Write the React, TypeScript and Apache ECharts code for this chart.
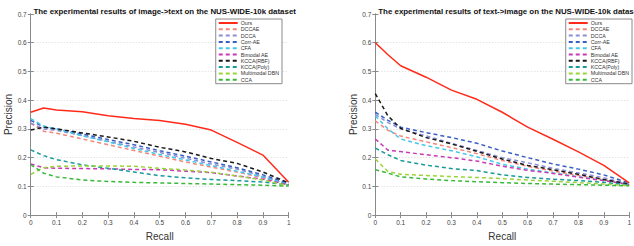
import React, { useEffect, useRef } from "react";
import * as echarts from "echarts";

const recall = [0, 0.05, 0.1, 0.2, 0.3, 0.4, 0.5, 0.6, 0.7, 0.8, 0.9, 1.0];
const methods = ["Ours", "DCCAE", "DCCA", "Corr-AE", "CFA", "Bimodal AE", "KCCA(RBF)", "KCCA(Poly)", "Multimodal DBN", "CCA"];
const colors = ["#ff2a1a", "#f4877a", "#8b8fd6", "#3a5fc4", "#45c8e8", "#c83ab5", "#1a1a1a", "#1a9a9a", "#9ad43a", "#3ab83a"];

const titles = [
  "The experimental results of image->text on the NUS-WIDE-10k dataset",
  "The experimental results of text->image on the NUS-WIDE-10k dataset",
];

// image -> text
const imgOurs = [0.358, 0.373, 0.366, 0.36, 0.346, 0.336, 0.329, 0.316, 0.296, 0.253, 0.209, 0.114];
const imgDCCAE = [0.32, 0.292, 0.285, 0.265, 0.245, 0.225, 0.205, 0.185, 0.167, 0.15, 0.13, 0.105];
const imgDCCA = [0.32, 0.3, 0.295, 0.277, 0.257, 0.237, 0.218, 0.198, 0.178, 0.16, 0.135, 0.106];
const imgCorrAE = [0.33, 0.307, 0.3, 0.282, 0.263, 0.245, 0.224, 0.205, 0.185, 0.165, 0.14, 0.11];
const imgCFA = [0.336, 0.31, 0.3, 0.276, 0.255, 0.232, 0.211, 0.192, 0.172, 0.153, 0.132, 0.106];
const imgBimodal = [0.178, 0.165, 0.163, 0.162, 0.161, 0.159, 0.158, 0.153, 0.148, 0.136, 0.125, 0.105];
const imgKRBF = [0.296, 0.306, 0.3, 0.286, 0.272, 0.257, 0.236, 0.22, 0.197, 0.18, 0.15, 0.112];
const imgKPoly = [0.227, 0.207, 0.193, 0.175, 0.163, 0.15, 0.137, 0.13, 0.124, 0.12, 0.115, 0.105];
const imgDBN = [0.142, 0.165, 0.17, 0.171, 0.171, 0.17, 0.163, 0.157, 0.149, 0.136, 0.122, 0.102];
const imgCCA = [0.176, 0.146, 0.133, 0.122, 0.117, 0.114, 0.112, 0.11, 0.108, 0.106, 0.104, 0.101];

// text -> image
const txtOurs = [0.6, 0.558, 0.52, 0.48, 0.435, 0.403, 0.358, 0.306, 0.264, 0.22, 0.173, 0.112];
const txtDCCAE = [0.328, 0.295, 0.275, 0.255, 0.235, 0.214, 0.19, 0.17, 0.153, 0.138, 0.123, 0.107];
const txtDCCA = [0.35, 0.322, 0.3, 0.276, 0.25, 0.225, 0.2, 0.182, 0.163, 0.147, 0.13, 0.108];
const txtCorrAE = [0.358, 0.33, 0.306, 0.287, 0.27, 0.25, 0.223, 0.2, 0.178, 0.16, 0.14, 0.112];
const txtCFA = [0.345, 0.3, 0.265, 0.242, 0.224, 0.203, 0.177, 0.16, 0.147, 0.133, 0.12, 0.107];
const txtBimodal = [0.265, 0.226, 0.221, 0.21, 0.2, 0.188, 0.17, 0.156, 0.145, 0.132, 0.12, 0.106];
const txtKRBF = [0.423, 0.345, 0.302, 0.27, 0.248, 0.222, 0.195, 0.173, 0.158, 0.142, 0.124, 0.108];
const txtKPoly = [0.233, 0.21, 0.19, 0.174, 0.162, 0.155, 0.14, 0.131, 0.125, 0.12, 0.114, 0.105];
const txtDBN = [0.195, 0.152, 0.142, 0.138, 0.134, 0.131, 0.127, 0.122, 0.118, 0.113, 0.108, 0.103];
const txtCCA = [0.158, 0.146, 0.133, 0.126, 0.12, 0.116, 0.113, 0.11, 0.108, 0.106, 0.104, 0.102];

const imgSets = [imgOurs, imgDCCAE, imgDCCA, imgCorrAE, imgCFA, imgBimodal, imgKRBF, imgKPoly, imgDBN, imgCCA];
const txtSets = [txtOurs, txtDCCAE, txtDCCA, txtCorrAE, txtCFA, txtBimodal, txtKRBF, txtKPoly, txtDBN, txtCCA];

const xTicks = [0, 0.1, 0.2, 0.3, 0.4, 0.5, 0.6, 0.7, 0.8, 0.9, 1];

export default function App() {
  const ref = useRef<HTMLDivElement>(null);
  useEffect(() => {
    if (!ref.current) return;
    const chart = echarts.init(ref.current, null, { renderer: "svg" });
    const font = "Liberation Sans, Arial, sans-serif";
    const axisColor = "#8a8a8a";
    const grids = [
      { left: 30.7, width: 258, top: 14, height: 205 },
      { left: 375.3, width: 258.4, top: 14, height: 205 },
    ];
    const xAxes: any[] = [];
    const yAxes: any[] = [];
    grids.forEach((_, i) => {
      xAxes.push({
        type: "value", gridIndex: i, min: 0, max: 1, interval: 0.1,
        position: "bottom",
        name: "Recall", nameLocation: "middle", nameGap: 14,
        nameTextStyle: { fontSize: 10, color: "#333", fontFamily: font },
        axisLine: { lineStyle: { color: axisColor, width: 1 } },
        axisTick: { inside: true, length: 3, lineStyle: { color: axisColor } },
        axisLabel: {
          fontSize: 6.5, color: "#444", fontFamily: font, margin: 4,
          formatter: (v: number) => { const t = xTicks.find((k) => Math.abs(k - v) < 1e-6); return t === undefined ? "" : String(t); },
        },
        splitLine: { show: false },
      });
      xAxes.push({
        type: "value", gridIndex: i, min: 0, max: 1, interval: 0.1,
        position: "top",
        axisLine: { lineStyle: { color: axisColor, width: 1 } },
        axisTick: { inside: true, length: 3, lineStyle: { color: axisColor } },
        axisLabel: { show: false },
        splitLine: { show: false },
      });
      yAxes.push({
        type: "value", gridIndex: i, min: 0, max: 0.7, interval: 0.1,
        position: "left",
        name: "Precision", nameLocation: "middle", nameGap: 13,
        nameTextStyle: { fontSize: 10, color: "#333", fontFamily: font },
        axisLine: { show: true, lineStyle: { color: axisColor, width: 1 } },
        axisTick: { show: true, inside: true, length: 3, lineStyle: { color: axisColor } },
        axisLabel: {
          fontSize: 6.5, color: "#444", fontFamily: font, margin: 4,
          formatter: (v: number) => (Math.abs(v) < 1e-9 ? "0" : String(Math.round(v * 10) / 10)),
        },
        splitLine: { show: true, lineStyle: { color: "#d8d8d8", type: [1, 2], width: 1 } },
      });
      yAxes.push({
        type: "value", gridIndex: i, min: 0, max: 0.7, interval: 0.1,
        position: "right",
        axisLine: { show: true, lineStyle: { color: axisColor, width: 1 } },
        axisTick: { show: true, inside: true, length: 3, lineStyle: { color: axisColor } },
        axisLabel: { show: false },
        splitLine: { show: false },
      });
    });

    const series: any[] = [];
    [imgSets, txtSets].forEach((sets, g) => {
      sets.forEach((vals, k) => {
        series.push({
          type: "line",
          name: methods[k],
          xAxisIndex: g * 2,
          yAxisIndex: g * 2,
          data: recall.map((r, j) => [r, vals[j]]),
          symbol: "none",
          showSymbol: false,
          z: k === 0 ? 5 : 3,
          lineStyle: {
            color: colors[k],
            width: 1.5,
            type: k === 0 ? "solid" : [4, 3],
          },
          itemStyle: { color: colors[k] },
        });
      });
    });

    const legendBase = {
      orient: "vertical",
      top: 19,
      data: methods,
      itemWidth: 19,
      itemHeight: 6,
      itemGap: 1.3,
      padding: [1.5, 3, 1.5, 2],
      backgroundColor: "#ffffff",
      borderColor: "#8a8a8a",
      borderWidth: 1,
      borderRadius: 0,
      selectedMode: false,
      itemStyle: { opacity: 0 },
      textStyle: { fontSize: 5.3, color: "#333", fontFamily: font, padding: [0, 0, 0, -2] },
    };

    chart.setOption({
      animation: false,
      backgroundColor: "#ffffff",
      title: titles.map((t, i) => ({
        text: t,
        left: grids[i].left + grids[i].width / 2,
        textAlign: "center",
        top: 2,
        textStyle: { fontSize: 7.9, fontWeight: "bold", color: "#111", fontFamily: font },
      })),
      grid: grids.map((g) => ({ ...g, containLabel: false })),
      legend: [
        { ...legendBase, right: 352 },
        { ...legendBase, right: 2 },
      ],
      xAxis: xAxes,
      yAxis: yAxes,
      series,
    });
    return () => chart.dispose();
  }, []);
  return <div ref={ref} style={{ width: 634, height: 246, position: "absolute", left: 0, top: 0 }} />;
}
